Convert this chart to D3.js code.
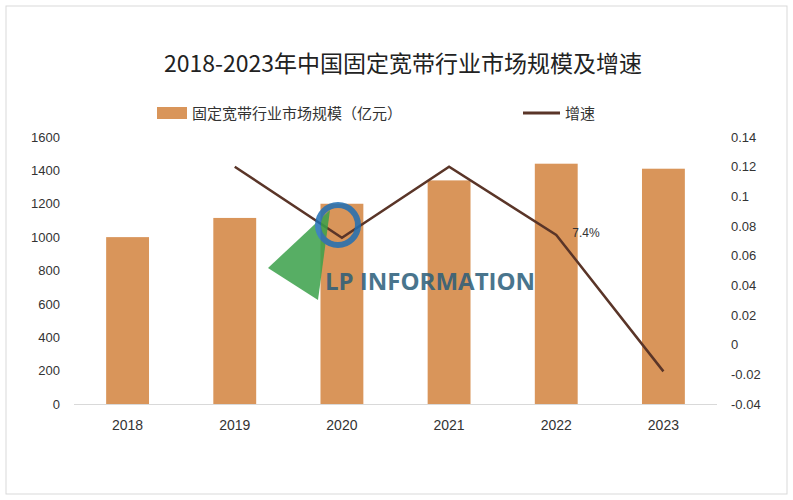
<!DOCTYPE html>
<html><head><meta charset="utf-8">
<script src="https://cdn.jsdelivr.net/npm/d3@7"></script>
<style>body{margin:0;background:#fff}svg{display:block}</style>
</head><body>
<svg id="c" width="793" height="500"></svg>
<script>
const years = ["2018","2019","2020","2021","2022","2023"];
const marketSize = [1000,1115,1200,1340,1440,1410];
const growthYears = ["2019","2020","2021","2022","2023"];
const growth = [0.12,0.072,0.12,0.074,-0.018];
const leftTicks = [0,200,400,600,800,1000,1200,1400,1600];
const rightTicks = [-0.04,-0.02,0,0.02,0.04,0.06,0.08,0.1,0.12,0.14];

const svg = d3.select("#c");
const font = "'Liberation Sans', Arial, sans-serif";
svg.append("rect").attr("x",6).attr("y",6).attr("width",781).attr("height",488).attr("fill","#fff").attr("stroke","#d9d9d9");
const x = d3.scaleBand().domain(years).range([74,717]).paddingInner(0.6).paddingOuter(0.3);
const yL = d3.scaleLinear().domain([0,1600]).range([404,137]);
const yR = d3.scaleLinear().domain([-0.04,0.14]).range([404,137]);

svg.append("text").attr("x",403).attr("y",72).attr("text-anchor","middle")
  .attr("font-family","'Noto Sans CJK SC', sans-serif").attr("font-size",23).attr("fill","#222")
  .text("2018-2023年中国固定宽带行业市场规模及增速");

svg.append("rect").attr("x",157).attr("y",107).attr("width",30).attr("height",12).attr("fill","#d9955a");
svg.append("text").attr("x",192).attr("y",119).attr("font-family","'Noto Sans CJK SC', sans-serif").attr("font-size",15).attr("fill","#333").text("固定宽带行业市场规模（亿元）");
svg.append("line").attr("x1",523).attr("x2",560).attr("y1",113).attr("y2",113).attr("stroke","#5a3528").attr("stroke-width",3);
svg.append("text").attr("x",565).attr("y",119).attr("font-family","'Noto Sans CJK SC', sans-serif").attr("font-size",15).attr("fill","#333").text("增速");

svg.selectAll(".bar").data(years).join("rect")
  .attr("x",d=>x(d)).attr("width",x.bandwidth())
  .attr("y",(d,i)=>yL(marketSize[i])).attr("height",(d,i)=>404-yL(marketSize[i]))
  .attr("fill","#d9955a");

const gL = svg.append("g").attr("transform","translate(74,0)")
  .call(d3.axisLeft(yL).tickValues(leftTicks).tickSize(0).tickPadding(14).tickFormat(d3.format("d")));
const gR = svg.append("g").attr("transform","translate(717,0)")
  .call(d3.axisRight(yR).tickValues(rightTicks).tickSize(0).tickPadding(14).tickFormat(d=>String(+d.toFixed(2))));
const gX = svg.append("g").attr("transform","translate(0,404)")
  .call(d3.axisBottom(x).tickSize(0).tickPadding(16));
[gL,gR,gX].forEach(g=>{g.select(".domain").remove();g.selectAll("text").attr("font-family",font).attr("font-size",13).attr("fill","#333");});
gX.selectAll("text").attr("font-size",14);
svg.append("line").attr("x1",74).attr("x2",717).attr("y1",404.5).attr("y2",404.5).attr("stroke","#d9d9d9");

const cx = d=>x(d)+x.bandwidth()/2;
svg.append("path").datum(growth)
  .attr("d",d3.line().x((d,i)=>cx(growthYears[i])).y(d=>yR(d)))
  .attr("fill","none").attr("stroke","#5a3528").attr("stroke-width",2.5);
svg.append("text").attr("x",cx("2022")+16).attr("y",yR(0.074)+2).attr("font-family",font).attr("font-size",12).attr("fill","#333").text("7.4%");

const wm = svg.append("g").attr("opacity",0.85);
wm.append("path").attr("d","M268,268 L330,210 L318,300 Z").attr("fill","#3aa14a");
wm.append("circle").attr("cx",338).attr("cy",225).attr("r",20).attr("fill","none").attr("stroke","#1f6fb5").attr("stroke-width",6);
wm.append("text").attr("x",325).attr("y",290).attr("font-family","'Open Sans', sans-serif").attr("font-weight","bold").attr("font-size",24).attr("fill","#2a5d7a").text("LP INFORMATION");
</script>
</body></html>
